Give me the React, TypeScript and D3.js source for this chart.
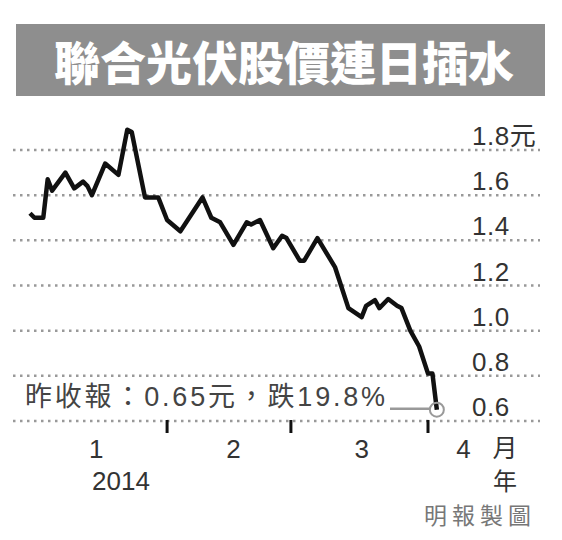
import React from 'react';
import * as d3 from 'd3';

// 聯合光伏股價 (港元), 2014年1月至4月
const dates = [
  '2014-01-01', '2014-01-02', '2014-01-04', '2014-01-05', '2014-01-06', '2014-01-09',
  '2014-01-11', '2014-01-13', '2014-01-14', '2014-01-15', '2014-01-18', '2014-01-21',
  '2014-01-23', '2014-01-24', '2014-01-27', '2014-01-30', '2014-02-01', '2014-02-04',
  '2014-02-09', '2014-02-11', '2014-02-13', '2014-02-16', '2014-02-19', '2014-02-20',
  '2014-02-22', '2014-02-25', '2014-02-27', '2014-02-28', '2014-03-03', '2014-03-04',
  '2014-03-07', '2014-03-11', '2014-03-12', '2014-03-14', '2014-03-17', '2014-03-18',
  '2014-03-20', '2014-03-21', '2014-03-23', '2014-03-25', '2014-03-26', '2014-03-28',
  '2014-03-30', '2014-04-01', '2014-04-02', '2014-04-03',
];
const prices = [
  1.52, 1.5, 1.5, 1.67, 1.62, 1.7,
  1.63, 1.66, 1.64, 1.6, 1.74, 1.69,
  1.89, 1.88, 1.59, 1.59, 1.49, 1.44,
  1.59, 1.5, 1.48, 1.38, 1.48, 1.47,
  1.49, 1.365, 1.42, 1.41, 1.31, 1.31,
  1.41, 1.28, 1.22, 1.1, 1.06, 1.11,
  1.135, 1.1, 1.14, 1.11, 1.1, 1.0,
  0.93, 0.81, 0.81, 0.65,
];

const yTicks = [0.6, 0.8, 1.0, 1.2, 1.4, 1.6, 1.8];
const yLabels = ['0.6', '0.8', '1.0', '1.2', '1.4', '1.6', '1.8元'];
const monthTicks = ['2014-02-01', '2014-03-01', '2014-04-01'];
const monthLabelDates = ['2014-01-16', '2014-02-16', '2014-03-17', '2014-04-09'];
const monthLabels = ['1', '2', '3', '4'];

const title = '聯合光伏股價連日插水';
const note = '昨收報：0.65元，跌19.8%';

const parse = d3.utcParse('%Y-%m-%d');
const numFont = '"Liberation Sans", Arial, "Noto Sans CJK TC", sans-serif';
const cjkFont = '"Noto Sans CJK TC", "Liberation Sans", sans-serif';

const App = () => {
  const x = d3
    .scaleUtc()
    .domain([parse('2014-01-01')!, parse('2014-04-01')!])
    .range([30, 428]);
  const y = d3.scaleLinear().domain([0.6, 1.8]).range([421, 150]);

  const data = dates.map((d, i) => ({ date: parse(d)!, value: prices[i] }));
  const line = d3
    .line<{ date: Date; value: number }>()
    .x((d) => x(d.date))
    .y((d) => y(d.value));

  const last = data[data.length - 1];
  const lx = x(last.date);
  const ly = y(last.value);

  return (
    <svg
      width={562}
      height={540}
      style={{ position: 'absolute', left: 0, top: 0, display: 'block', background: '#fff' }}
    >
      {/* 標題 */}
      <rect x={16} y={24} width={529} height={72} fill="#8e8e8e" />
      <text
        x={54}
        y={80}
        fill="#fff"
        fontSize={46}
        fontWeight={900}
        fontFamily={cjkFont}
      >
        {title}
      </text>

      {/* 格線 */}
      {yTicks.map((t, i) => (
        <g key={t}>
          <line
            x1={13}
            x2={540}
            y1={y(t)}
            y2={y(t)}
            stroke="#999"
            strokeWidth={2.5}
            strokeDasharray="2.5,4.5"
          />
          <text
            x={472}
            y={y(t) - 5}
            fontSize={26}
            fontFamily={numFont}
            fill="#333"
            letterSpacing={0.5}
          >
            {yLabels[i]}
          </text>
        </g>
      ))}

      {/* 月份刻度 */}
      {monthTicks.map((m) => (
        <line
          key={m}
          x1={x(parse(m)!)}
          x2={x(parse(m)!)}
          y1={420}
          y2={433}
          stroke="#111"
          strokeWidth={3}
        />
      ))}
      {monthLabels.map((m, i) => (
        <text
          key={m}
          x={x(parse(monthLabelDates[i])!)}
          y={458}
          textAnchor="middle"
          fontSize={26}
          fontFamily={numFont}
          fill="#333"
        >
          {m}
        </text>
      ))}
      <text x={505} y={457} textAnchor="middle" fontSize={25} fontFamily={cjkFont} fill="#333">
        月
      </text>
      <text x={121} y={490} textAnchor="middle" fontSize={26} fontFamily={numFont} fill="#333">
        2014
      </text>
      <text x={505} y={490} textAnchor="middle" fontSize={24} fontFamily={cjkFont} fill="#333">
        年
      </text>
      <text x={424} y={524} fontSize={23} fontFamily={cjkFont} fill="#777" letterSpacing={5}>
        明報製圖
      </text>

      {/* 股價線 */}
      <path
        d={line(data) ?? ''}
        fill="none"
        stroke="#111"
        strokeWidth={4.5}
        strokeLinejoin="round"
      />

      {/* 註解 */}
      <text x={25} y={406} fontSize={27} fontFamily={numFont} fill="#444" letterSpacing={2.8}>
        {note}
      </text>
      <line x1={390} x2={lx - 7} y1={ly - 1} y2={ly - 1} stroke="#999" strokeWidth={2.5} />
      <circle cx={lx} cy={ly} r={7} fill="none" stroke="#999" strokeWidth={2} />
    </svg>
  );
};

export default App;
